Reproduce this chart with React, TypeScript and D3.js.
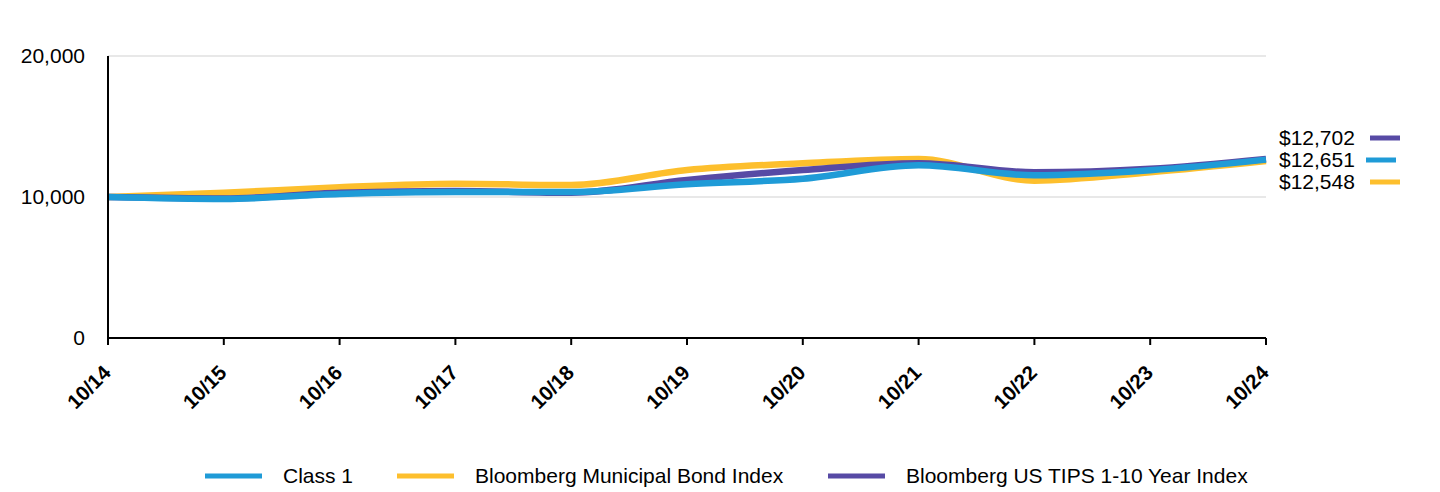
import React from "react";
import * as d3 from "d3";

const years = ["10/14", "10/15", "10/16", "10/17", "10/18", "10/19", "10/20", "10/21", "10/22", "10/23", "10/24"];
const class1 = [10000, 9860, 10210, 10350, 10350, 10900, 11300, 12250, 11540, 11900, 12651];
const muni = [10000, 10300, 10690, 10940, 10850, 11910, 12390, 12700, 11160, 11750, 12548];
const tips = [10000, 9900, 10300, 10420, 10300, 11200, 11910, 12390, 11750, 12000, 12702];
const yTicks = [0, 10000, 20000];

const seriesList = [
  { name: "Bloomberg Municipal Bond Index", values: muni, color: "#fdbf2d" },
  { name: "Bloomberg US TIPS 1-10 Year Index", values: tips, color: "#574aa5" },
  { name: "Class 1", values: class1, color: "#1f9bd7" },
];

const legendItems = [
  { name: "Class 1", color: "#1f9bd7", x: 205 },
  { name: "Bloomberg Municipal Bond Index", color: "#fdbf2d", x: 397 },
  { name: "Bloomberg US TIPS 1-10 Year Index", color: "#574aa5", x: 828 },
];

const endLabels = [
  { label: "$12,702", color: "#574aa5", y: 138, sx: 1370 },
  { label: "$12,651", color: "#1f9bd7", y: 160, sx: 1366 },
  { label: "$12,548", color: "#fdbf2d", y: 182, sx: 1370 },
];

const FONT = "Arial, 'Liberation Sans', sans-serif";

export default function App() {
  const left = 108, right = 1266, top = 56, bottom = 338;
  const x = d3.scalePoint<string>().domain(years).range([left, right]);
  const y = d3.scaleLinear().domain([0, 20000]).range([bottom, top]);
  const line = d3
    .line<number>()
    .x((_, i) => x(years[i]) as number)
    .y((d) => y(d))
    .curve(d3.curveMonotoneX);

  return (
    <svg width={1440} height={492} style={{ position: "absolute", left: 0, top: 0, fontFamily: FONT }}>
      {yTicks.filter((t) => t > 0).map((t) => (
        <line key={t} x1={left} x2={right} y1={y(t)} y2={y(t)} stroke="#e0e0e0" strokeWidth={1.5} />
      ))}
      {yTicks.map((t) => (
        <text key={t} x={85} y={y(t)} dy="0.35em" textAnchor="end" fontSize={21} fill="#000">
          {d3.format(",")(t)}
        </text>
      ))}
      {seriesList.map((s) => (
        <path key={s.name} d={line(s.values) || ""} fill="none" stroke={s.color} strokeWidth={6.5} strokeLinejoin="round" />
      ))}
      <line x1={left} x2={left} y1={top} y2={bottom} stroke="#000" strokeWidth={2} />
      <line x1={left - 1} x2={right} y1={bottom} y2={bottom} stroke="#000" strokeWidth={2} />
      {years.map((yr) => {
        const xp = x(yr) as number;
        return (
          <g key={yr}>
            <line x1={xp} x2={xp} y1={bottom} y2={bottom + 7} stroke="#000" strokeWidth={2} />
            <text
              transform={`translate(${xp + 4},${bottom + 36}) rotate(-45)`}
              textAnchor="end"
              fontSize={20.5}
              fontWeight="bold"
              fill="#000"
            >
              {yr}
            </text>
          </g>
        );
      })}
      {endLabels.map((e) => (
        <g key={e.label}>
          <text x={1279} y={e.y} dy="0.35em" fontSize={21} fill="#000">
            {e.label}
          </text>
          <line x1={e.sx} x2={e.sx + 30} y1={e.y} y2={e.y} stroke={e.color} strokeWidth={5} />
        </g>
      ))}
      {legendItems.map((l) => (
        <g key={l.name}>
          <line x1={l.x} x2={l.x + 57} y1={476} y2={476} stroke={l.color} strokeWidth={5} />
          <text x={l.x + 78} y={476} dy="0.35em" fontSize={21} fill="#000">
            {l.name}
          </text>
        </g>
      ))}
    </svg>
  );
}
